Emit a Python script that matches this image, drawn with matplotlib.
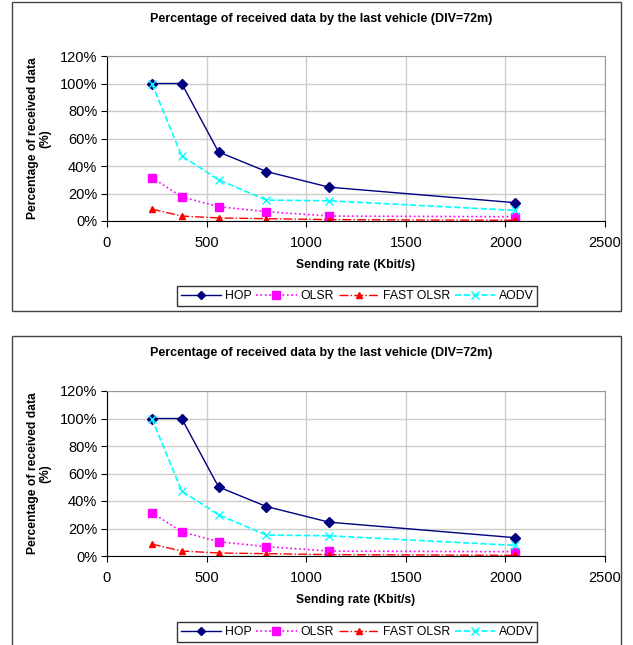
import matplotlib
matplotlib.use('Agg')
import matplotlib.pyplot as plt
from matplotlib.patches import Rectangle
from matplotlib.ticker import PercentFormatter

plt.rcParams['font.family'] = ['Liberation Sans', 'DejaVu Sans']

# sending rate (Kbit/s)
rate = [225, 375, 560, 800, 1115, 2050]

# percentage of received data
hop = [100, 100, 50.2, 36, 24.6, 13.3]
olsr = [31.6, 17.6, 10.4, 6.8, 3.6, 3.1]
fast_olsr = [8.7, 3.6, 2.2, 1.7, 1.0, 0.5]
aodv = [100, 47.3, 30, 15.2, 14.7, 7.7]

title = 'Percentage of received data by the last vehicle (DIV=72m)'

W, H = 633, 645
fig = plt.figure(figsize=(W / 100, H / 100), dpi=100)


def fx(px):
    return px / W


def fy(py):
    return 1 - py / H


def draw_panel(top, plot_top, plot_bot, legend_y, bottom=None):
    # outer frame of the chart
    if bottom is None:
        bottom = H + 10
    fig.patches.append(Rectangle((fx(12), fy(bottom)), fx(609), (bottom - top) / H,
                                 transform=fig.transFigure, fill=False,
                                 edgecolor='#444444', lw=1.0))
    ax = fig.add_axes([fx(107), fy(plot_bot), fx(605 - 107), (plot_bot - plot_top) / H])
    ax.plot(rate, hop, color='#000080', ls='-', lw=1, marker='D', ms=5, label='HOP')
    ax.plot(rate, olsr, color='#FF00FF', ls=':', lw=1.2, marker='s', ms=6, label='OLSR')
    ax.plot(rate, fast_olsr, color='#FF0000', ls='-.', lw=1, marker='^', ms=4.5, label='FAST OLSR')
    ax.plot(rate, aodv, color='#00FFFF', ls='--', lw=1.2, marker='x', ms=6, mew=1,
            label='AODV')
    ax.set_xlim(0, 2500)
    ax.set_ylim(0, 120)
    ax.set_xticks(range(0, 2501, 500))
    ax.set_yticks(range(0, 121, 20))
    ax.yaxis.set_major_formatter(PercentFormatter(xmax=100, decimals=0))
    ax.grid(True, color='#cccccc', lw=1)
    ax.set_axisbelow(True)
    for s in ['top', 'right']:
        ax.spines[s].set_color('#999999')
    for s in ['left', 'bottom']:
        ax.spines[s].set_color('#000000')
    ax.tick_params(labelsize=10.5, length=4, direction='out')
    ax.tick_params(axis='y', pad=3)
    ax.tick_params(axis='x', pad=7)
    ax.set_xlabel('Sending rate (Kbit/s)', fontsize=8.7, fontweight='bold', labelpad=6)
    ax.set_ylabel('Percentage of received data\n(%)', fontsize=8.7, fontweight='bold',
                  labelpad=6, linespacing=1.1)
    fig.text(fx(321), fy(top + 17), title, ha='center', va='center', fontsize=9,
             fontweight='bold')
    leg = fig.legend(*ax.get_legend_handles_labels(), loc='center',
                     bbox_to_anchor=(fx(357), fy(legend_y)), ncol=4, fontsize=8.8,
                     frameon=True, fancybox=False, edgecolor='#000000',
                     handlelength=3.3, handletextpad=0.3, columnspacing=0.4,
                     borderpad=0.3, markerscale=0.85)
    leg.get_frame().set_linewidth(1.0)
    return ax


draw_panel(top=2, plot_top=56, plot_bot=221, legend_y=296, bottom=311)
draw_panel(top=336, plot_top=391, plot_bot=556, legend_y=632)

fig.savefig('out.png', dpi=100)
